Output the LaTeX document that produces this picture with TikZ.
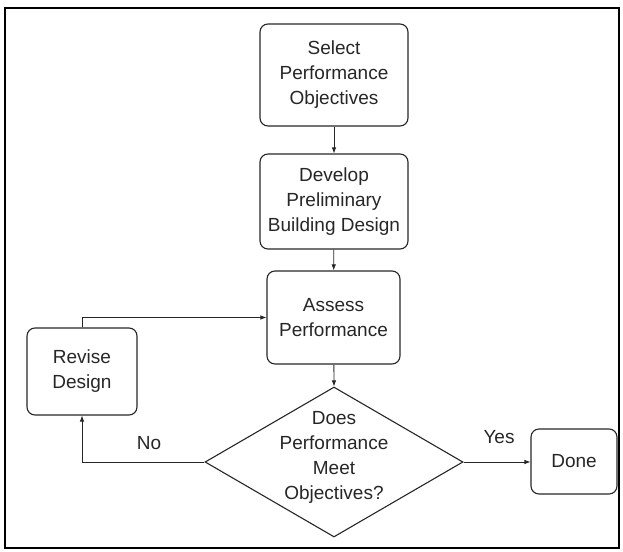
\documentclass[tikz,border=0pt]{standalone}
\usepackage{fontspec}
\setmainfont{Liberation Sans}
\usetikzlibrary{shapes.geometric,arrows.meta}
\begin{document}
\begin{tikzpicture}[x=1pt,y=-1pt,
  box/.style={draw=black!85,rounded corners=8pt,line width=1.1pt,align=center,inner sep=0pt,
    font=\fontsize{19}{25}\selectfont,text=black!85},
  dia/.style={draw=black!85,shape=diamond,line width=1.1pt,inner sep=0pt},
  lbl/.style={font=\fontsize{19}{25}\selectfont,text=black!85,align=center,inner sep=0pt},
  arr/.style={draw=black!85,line width=0.8pt,-{Latex[length=6pt,width=4.5pt]}}]
\useasboundingbox (0,0) rectangle (623,551);
\draw[line width=2.5pt] (5,8) rectangle (619,548);
\node[box,minimum width=148pt,minimum height=102pt] (select) at (334,75) {Select\\Performance\\Objectives};
\node[box,minimum width=148pt,minimum height=95pt] (develop) at (334,201.5) {Develop\\Preliminary\\Building Design};
\node[box,minimum width=133pt,minimum height=93pt] (assess) at (333.5,317.5) {Assess\\Performance};
\node[box,minimum width=110pt,minimum height=87pt] (revise) at (82,371.5) {Revise\\Design};
\node[box,minimum width=86pt,minimum height=65pt] (done) at (574,461.5) {Done};
\node[dia,minimum width=258pt,minimum height=150pt] (check) at (334,462) {};
\node[lbl] (checktext) at (334,457) {Does\\Performance\\Meet\\Objectives?};
\node[lbl] (no) at (149,443) {No};
\node[lbl] (yes) at (499,437) {Yes};
\draw[arr] (select) -- (develop);
\draw[arr] (develop) -- (assess);
\draw[arr] (assess) -- (check.north);
\draw[arr] (revise.north) |- (assess.west);
\draw[arr] (check.west) -| (revise.south);
\draw[arr] (check.east) -- (done.west |- check.east);
\end{tikzpicture}
\end{document}
